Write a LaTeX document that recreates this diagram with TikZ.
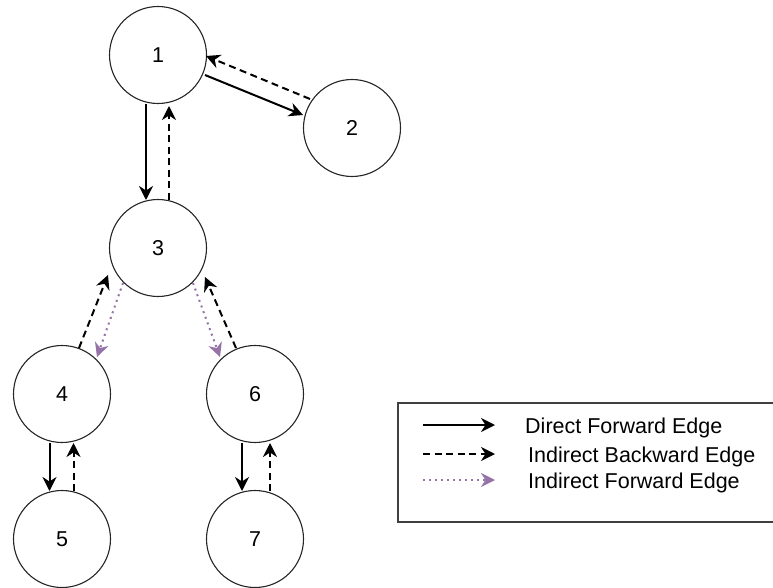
\documentclass[tikz,border=0pt]{standalone}
\usepackage{fontspec}
\setmainfont{Liberation Sans}
\usetikzlibrary{arrows.meta}
\definecolor{dpurple}{HTML}{9673A6}
\tikzset{
  vnode/.style={circle, draw=black!85, line width=1.1pt, minimum size=97pt, inner sep=0pt, font=\fontsize{21.5}{25}\selectfont},
  tipS/.style={-{Stealth[length=14pt,width=14pt,inset=4.5pt]}},
  fwd/.style={line width=2pt, black, tipS},
  bwd/.style={line width=2pt, black, dash pattern=on 7pt off 4.5pt, tipS},
  ifwd/.style={line width=2pt, dpurple, dash pattern=on 2pt off 4pt, tipS},
  legtext/.style={anchor=base west, inner sep=0pt, font=\fontsize{21.5}{25}\selectfont}
}
\begin{document}
\begin{tikzpicture}[x=1pt,y=-1pt]
\useasboundingbox (0,0) rectangle (773,588);
\node[vnode] (n1) at (158,55) {1};
\node[vnode] (n2) at (352,128) {2};
\node[vnode] (n3) at (158,248) {3};
\node[vnode] (n4) at (62,394) {4};
\node[vnode] (n5) at (62,539) {5};
\node[vnode] (n6) at (255,394) {6};
\node[vnode] (n7) at (255,539) {7};
% 1 <-> 3
\draw[fwd] ([shift={(-12,49)}]n1.center) -- ([shift={(-12,-48)}]n3.center);
\draw[bwd] ([shift={(11,-48)}]n3.center) -- ([shift={(11,51)}]n1.center);
% 1 <-> 2
\draw[fwd] ([shift={(47,20)}]n1.center) -- ([shift={(-49,-13)}]n2.center);
\draw[bwd] ([shift={(-42,-29)}]n2.center) -- ([shift={(48,1)}]n1.center);
% 3 <-> 4
\draw[bwd] ([shift={(17,-46)}]n4.center) -- ([shift={(-50,27)}]n3.center);
\draw[ifwd] ([shift={(-35,35)}]n3.center) -- ([shift={(35,-37)}]n4.center);
% 3 <-> 6
\draw[ifwd] ([shift={(35,35)}]n3.center) -- ([shift={(-35,-37)}]n6.center);
\draw[bwd] ([shift={(-19,-46)}]n6.center) -- ([shift={(47,29)}]n3.center);
% 4 <-> 5
\draw[fwd] ([shift={(-12.5,49)}]n4.center) -- ([shift={(-12.5,-48)}]n5.center);
\draw[bwd] ([shift={(11.5,-48)}]n5.center) -- ([shift={(11.5,49)}]n4.center);
% 6 <-> 7
\draw[fwd] ([shift={(-13,49)}]n6.center) -- ([shift={(-13,-48)}]n7.center);
\draw[bwd] ([shift={(15,-48)}]n7.center) -- ([shift={(15,49)}]n6.center);
% legend
\draw[line width=1.1pt, black!75] (398,403) rectangle (776,522);
\coordinate (l1a) at (423,425); \coordinate (l1b) at (495,425);
\coordinate (l2a) at (423,454); \coordinate (l2b) at (495,454);
\coordinate (l3a) at (423,480); \coordinate (l3b) at (495,480);
\draw[fwd] (l1a) -- (l1b);
\draw[bwd] (l2a) -- (l2b);
\draw[ifwd] (l3a) -- (l3b);
\node[legtext] (t1) at (525,433) {Direct Forward Edge};
\node[legtext] (t2) at (528,462) {Indirect Backward Edge};
\node[legtext] (t3) at (528,488) {Indirect Forward Edge};
\end{tikzpicture}
\end{document}
